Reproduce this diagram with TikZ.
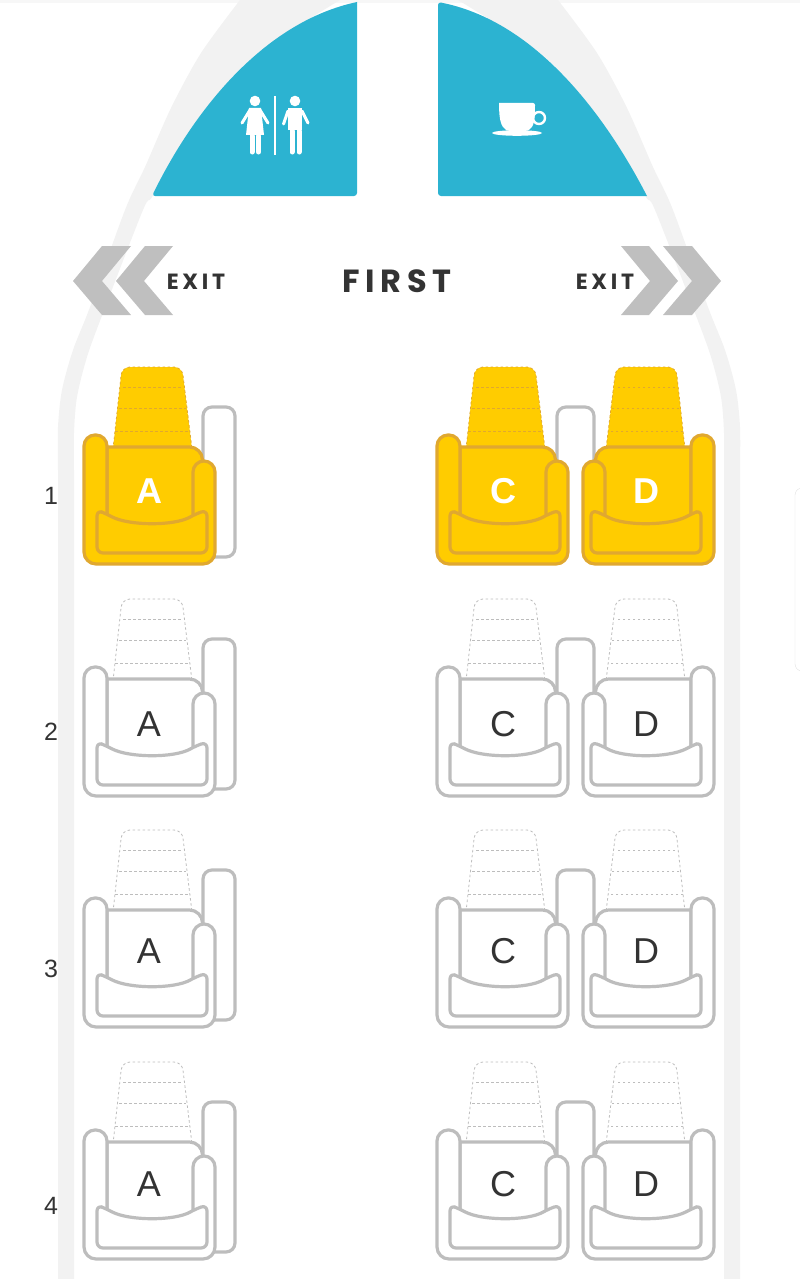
\documentclass[tikz,border=0pt]{standalone}
\usepackage{fontspec}
\setmainfont{Liberation Sans}
\newfontfamily\signfont[LetterSpace=17]{Poppins}
\usetikzlibrary{positioning}

\definecolor{bandgray}{HTML}{F2F2F2}
\definecolor{cabinblue}{HTML}{2CB3D1}
\definecolor{arrowgray}{HTML}{BFBFBF}
\definecolor{seatgray}{HTML}{BDBDBD}
\definecolor{seatyellow}{HTML}{FFCC00}
\definecolor{seatedge}{HTML}{E0A830}
\definecolor{inkdark}{HTML}{333333}

\tikzset{
    seatline/.style={draw=seatstroke, line width=3.2pt, line join=round},
    dashline/.style={draw=seatdash, line width=0.8pt, dash pattern=on 2.5pt off 2.5pt},
    trayline/.style={draw=seatgray, fill=white, line width=3.2pt},
    rowlabel/.style={font=\fontsize{25}{25}\selectfont, text=inkdark, inner sep=0pt},
    exitlabel/.style={font=\signfont\fontsize{22}{22}\selectfont\bfseries, text=inkdark, inner sep=0pt},
    iconlimb/.style={draw=white, line cap=round, line width=3pt},
    iconleg/.style={draw=white, line cap=round, line width=5pt},
    seat/.pic={
        \draw[dashline, fill=seatfill, rounded corners=8pt]
            (-36.5,449) -- (-27.5,367) -- (32.5,367) -- (42.5,449); % Backrest
        \draw[dashline] (-26.5,387) -- (32.5,387);
        \draw[dashline] (-30.5,408) -- (36.5,408);
        \draw[dashline] (-34.5,431) -- (40.5,431);
        \draw[seatline, fill=seatfill] (-42.5,520) -- (-42.5,447) [rounded corners=13pt] -- (53,447) -- (53,520); % Back cushion
        \draw[seatline, fill=seatfill] (-42.5,520) [rounded corners=11pt] -- (-42.5,435) -- (-65.5,435)
            [rounded corners=12pt] -- (-65.5,564) -- (65.5,564) [rounded corners=11pt] -- (65.5,461) -- (43.5,461) -- (43.5,520); % Arms
        \draw[seatline, fill=seatfill, rounded corners=6pt] (-52.5,553) -- (-52.5,510) -- (-43,514)
            .. controls (-20,526) and (25,526) .. (46,514) -- (57.5,510) -- (57.5,553) -- cycle; % Cushion
    }
}

\begin{document}
\begin{tikzpicture}[x=1pt,y=-1pt]
    \useasboundingbox (0,0) rectangle (800,1279);

    % Fuselage
    \fill[black!3] (0,0) rectangle (800,3);
    \foreach \flip/\off in {1/0,-1/798}{
        \begin{scope}[xshift=\off,xscale=\flip]
            \fill[bandgray] (58,1279) -- plot[smooth] coordinates {(58,470) (58,427) (62,390) (73,350) (90,307) (125,210) (145,167) (171,108) (201,53) (240,0)}
                -- plot[smooth] coordinates {(340,0) (267,46) (233,77) (200,117) (173,157) (152,197) (143,210) (103,313) (87,357) (77,397) (74,433) (74,470)} -- (74,1279) -- cycle;
        \end{scope}
    }

    % Cabins
    \fill[cabinblue] (152,196) .. controls (193,112) and (263,22) .. (357,2) [rounded corners=3pt] -- (357,196) -- cycle;
    \fill[cabinblue] (438,2) .. controls (530,20) and (600,105) .. (647,196) [rounded corners=3pt] -- (438,196) -- cycle;

    % Lavatory sign
    \fill[white] (255,101) circle (5.3); % Woman
    \fill[white] (249,108) -- (261,108) -- (264,135) -- (246,135) -- cycle;
    \draw[iconlimb] (250,110) -- (242,123);
    \draw[iconlimb] (260,110) -- (268,123);
    \draw[iconleg] (252,136) -- (252,152);
    \draw[iconleg] (258.5,136) -- (258.5,152);
    \draw[draw=white, line width=2.6pt] (275,96) -- (275,155); % Divider
    \fill[white] (295,101) circle (5.3); % Man
    \fill[white] (288,108) -- (302,108) -- (302,130) -- (288,130) -- cycle;
    \draw[iconlimb] (288,111) -- (283.5,124);
    \draw[iconlimb] (302,111) -- (308,123);
    \draw[iconleg] (292,131) -- (292,152);
    \draw[iconleg] (299,131) -- (299,152);

    % Cup
    \draw[draw=white, line width=2.4pt] (539,118) circle (6);
    \fill[white, rounded corners=2pt] (499,103) -- (535,103) .. controls (535,120) and (534,127) .. (527,131) -- (508,131) .. controls (501,127) and (499,120) .. (499,103);
    \fill[white] (517,133) ellipse (25 and 2.8);

    % Exit arrows
    \foreach \flip/\off in {1/0,-1/794}{
        \begin{scope}[xshift=\off,xscale=\flip]
            \fill[arrowgray] (73,281) -- (102,246) -- (131,246) -- (102,281) -- (131,315) -- (102,315) -- cycle;
            \fill[arrowgray] (116,281) -- (145,246) -- (173,246) -- (144,281) -- (173,315) -- (145,315) -- cycle;
        \end{scope}
    }
    \node[exitlabel] (exitleft) at (196,282) {EXIT};
    \node[exitlabel] (exitright) at (605,282) {EXIT};
    \node[font=\signfont\fontsize{32}{32}\selectfont\bfseries, text=inkdark, inner sep=0pt] (cabinname) at (397,281) {FIRST};

    % Seats
    \foreach \r/\dy/\ly/\ny/\sfill/\sline/\sdash/\sink/\sser in {
        1/0/491/496/seatyellow/seatedge/seatedge/white/bx,
        2/232/724/732/white/seatgray/seatgray/inkdark/m,
        3/463/951/969/white/seatgray/seatgray/inkdark/m,
        4/695/1184/1206/white/seatgray/seatgray/inkdark/m}{
        \colorlet{seatfill}{\sfill}
        \colorlet{seatstroke}{\sline}
        \colorlet{seatdash}{\sdash}
        \colorlet{seatink}{\sink}
        \begin{scope}[yshift=-\dy]
            \draw[trayline, rounded corners=9pt] (203,557) rectangle (235,407); % Side tray
            \draw[draw=seatgray, line width=3.2pt, rounded corners=9pt] (557,462) -- (557,407) -- (594,407) -- (594,462);
        \end{scope}
        \pic at (149.5,\dy) {seat};
        \pic at (502.5,\dy) {seat};
        \pic[xscale=-1] at (648.5,\dy) {seat};
        \node[font=\fontsize{36}{36}\fontseries{\sser}\selectfont, text=seatink, inner sep=0pt] (seatA\r) at (149,\ly) {A};
        \node[font=\fontsize{36}{36}\fontseries{\sser}\selectfont, text=seatink, inner sep=0pt] (seatC\r) at (503,\ly) {C};
        \node[font=\fontsize{36}{36}\fontseries{\sser}\selectfont, text=seatink, inner sep=0pt] (seatD\r) at (646,\ly) {D};
        \node[rowlabel] (row\r) at (51,\ny) {\r};
    }

    % Page edge
    \draw[draw=black!12, rounded corners=7pt] (803,488) -- (795,488) -- (795,671) -- (803,671);
\end{tikzpicture}
\end{document}
